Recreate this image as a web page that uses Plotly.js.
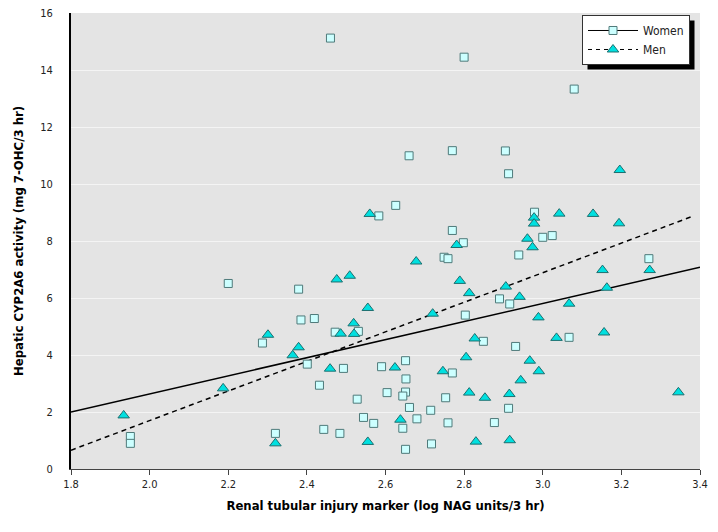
<!DOCTYPE html>
<html>
<head>
<meta charset="utf-8">
<script src="https://cdn.plot.ly/plotly-3.0.1.min.js"></script>
<style>
  html, body { margin: 0; padding: 0; background: #ffffff; }
  #chart { width: 718px; height: 532px; }
</style>
</head>
<body>
<div id="chart"></div>
<script>
// Women: log NAG units/3 hr (x) vs mg 7-OHC/3 hr (y)
const womenX = [2.46, 2.80, 2.66, 2.77, 3.08, 2.905, 2.20, 2.626, 2.583, 2.770, 2.798, 2.749, 2.759, 2.379,
  2.803, 2.385, 2.419, 2.913, 2.979, 3.000, 3.024, 2.939, 3.270, 2.890, 2.916, 2.287, 1.951, 1.951, 2.320,
  2.472, 2.531, 2.401, 2.493, 2.590, 2.651, 2.652, 2.432, 2.604, 2.651, 2.644, 2.528, 2.661, 2.544, 2.570,
  2.680, 2.644, 2.715, 2.443, 2.484, 2.651, 2.717, 2.770, 2.753, 2.759, 2.849, 3.067, 2.931, 2.913, 2.877];
const womenY = [15.12, 14.45, 10.99, 11.17, 13.33, 11.16, 6.51, 9.25, 8.88, 8.37, 7.94, 7.43, 7.38, 6.31,
  5.40, 5.23, 5.28, 10.36, 9.01, 8.13, 8.19, 7.51, 7.38, 5.97, 5.79, 4.42, 1.14, 0.90, 1.25,
  4.80, 4.83, 3.68, 3.53, 3.59, 3.80, 3.16, 2.94, 2.68, 2.70, 2.56, 2.45, 2.16, 1.81, 1.60,
  1.76, 1.43, 2.06, 1.39, 1.25, 0.69, 0.88, 3.37, 2.50, 1.62, 4.48, 4.62, 4.30, 2.13, 1.63];

// Men
const menX = [2.560, 2.781, 2.678, 2.476, 2.509, 2.789, 2.813, 2.555, 2.720, 3.196, 2.978, 2.978, 3.042,
  3.128, 3.194, 2.961, 2.974, 3.152, 3.272, 2.906, 2.941, 3.163, 3.067, 2.989, 2.301, 2.187, 1.934, 2.320,
  2.519, 2.486, 2.520, 2.379, 2.364, 2.459, 2.624, 2.638, 2.555, 2.746, 2.813, 2.853, 2.830, 2.827, 2.805,
  3.035, 3.156, 2.967, 2.990, 2.944, 2.915, 2.916, 3.345];
const menY = [8.95, 7.86, 7.28, 6.65, 6.78, 6.60, 6.17, 5.65, 5.45, 10.49, 8.82, 8.61, 8.96,
  8.95, 8.62, 8.08, 7.78, 6.98, 6.98, 6.40, 6.04, 6.36, 5.80, 5.32, 4.71, 2.83, 1.88, 0.90,
  5.11, 4.75, 4.74, 4.27, 3.99, 3.52, 3.56, 1.73, 0.95, 3.43, 2.68, 2.50, 0.96, 4.58, 3.92,
  4.60, 4.79, 3.80, 3.43, 3.11, 2.63, 1.01, 2.69];

// Regression lines (end points)
const womenFitX = [1.8, 3.4];
const womenFitY = [2.0, 7.08];
const menFitX = [1.8, 3.378];
const menFitY = [0.66, 8.85];

const xTicks = [1.8, 2.0, 2.2, 2.4, 2.6, 2.8, 3.0, 3.2, 3.4];
const yTicks = [0, 2, 4, 6, 8, 10, 12, 14, 16];

const narrow = '"Liberation Sans Narrow", "Arial Narrow", "DejaVu Sans Condensed", sans-serif';

const womenMarker = { symbol: 'square', size: 8, color: '#ccffff', line: { color: '#4f7a7a', width: 1 } };
const menMarker = { symbol: 'triangle-up', size: 10, color: '#00e0e0', line: { color: '#1d6f6f', width: 1 } };

const traces = [
  { x: womenFitX, y: womenFitY, mode: 'lines', line: { color: '#000', width: 1.5 }, showlegend: false, hoverinfo: 'skip' },
  { x: menFitX, y: menFitY, mode: 'lines', line: { color: '#000', width: 1.5, dash: '5px,4px' }, showlegend: false, hoverinfo: 'skip' },
  { x: womenX, y: womenY, mode: 'markers', marker: womenMarker, showlegend: false },
  { x: menX, y: menY, mode: 'markers', marker: menMarker, showlegend: false },
  { x: [null], y: [null], name: 'Women', mode: 'lines+markers', line: { color: '#000', width: 1 }, marker: womenMarker },
  { x: [null], y: [null], name: 'Men', mode: 'lines+markers', line: { color: '#000', width: 1, dash: '4px,4px' }, marker: menMarker }
];

const plotL = 71, plotR = 700, plotT = 13, plotB = 469.5;
const pw = plotR - plotL, ph = plotB - plotT;
const px = v => (v - plotL) / pw;
const py = v => (plotB - v) / ph;

const layout = {
  width: 718, height: 532,
  margin: { l: plotL, r: 718 - plotR, t: plotT, b: 532 - plotB },
  paper_bgcolor: '#ffffff',
  plot_bgcolor: '#e4e4e4',
  font: { family: narrow, color: '#222', size: 11 },
  xaxis: {
    range: [1.8, 3.4], tickvals: xTicks, ticktext: xTicks.map(v => v.toFixed(1)),
    showgrid: false, zeroline: false, showline: true, linecolor: '#444', linewidth: 1,
    ticks: 'outside', ticklen: 5, tickcolor: '#444', tickfont: { family: narrow, size: 11, color: '#222' },
    title: { text: 'Renal tubular injury marker (log NAG units/3 hr)', font: { family: narrow, size: 13, color: '#000', weight: 'bold' }, standoff: 10 }
  },
  yaxis: {
    range: [0, 16], tickvals: yTicks, ticktext: yTicks.map(String),
    showgrid: true, gridcolor: '#f4f4f4', gridwidth: 1, zeroline: false,
    showline: true, linecolor: '#000', linewidth: 2, ticks: '', ticklabelstandoff: 14,
    tickfont: { family: narrow, size: 11, color: '#222' },
    title: { text: 'Hepatic CYP2A6 activity (mg 7-OHC/3 hr)', font: { family: narrow, size: 13, color: '#000', weight: 'bold' }, standoff: 14 }
  },
  legend: {
    x: px(582), y: py(15), xanchor: 'left', yanchor: 'top',
    bgcolor: '#ffffff', bordercolor: '#333', borderwidth: 1,
    font: { family: narrow, size: 12, color: '#222' },
    itemwidth: 50, tracegroupgap: 0
  },
  showlegend: true
};

Plotly.newPlot('chart', traces, layout, { displayModeBar: false, staticPlot: true }).then(gd => {
  // drop shadow behind the legend box, sized from the drawn legend
  const bg = gd.querySelector('.legend .bg');
  if (!bg) return;
  const r = bg.getBoundingClientRect();
  const c = gd.getBoundingClientRect();
  const L = r.left - c.left, T = r.top - c.top;
  const off = 5;
  return Plotly.relayout(gd, {
    shapes: [{
      type: 'rect', xref: 'paper', yref: 'paper', layer: 'above',
      x0: px(L + off), x1: px(L + r.width + off), y0: py(T + r.height + off), y1: py(T + off),
      fillcolor: '#000', line: { width: 0 }
    }]
  });
});
</script>
</body>
</html>
